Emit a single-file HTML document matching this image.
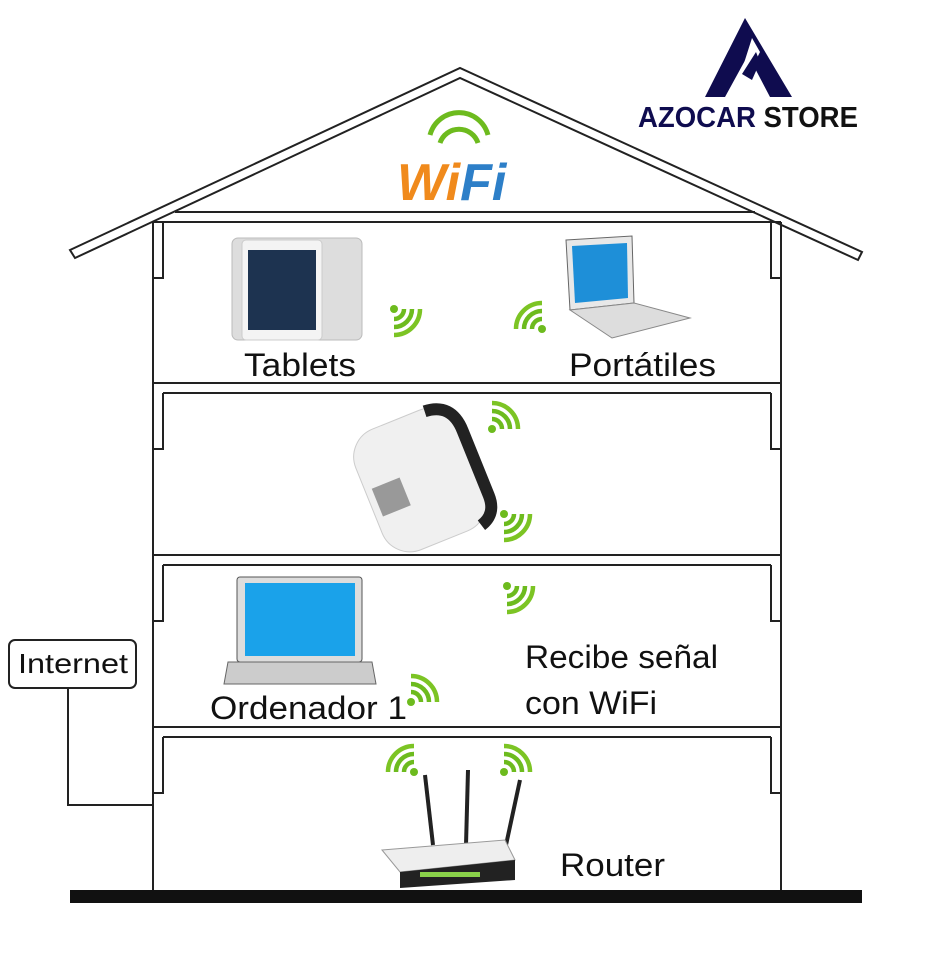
<!DOCTYPE html>
<html><head><meta charset="utf-8"><style>
html,body{margin:0;padding:0;background:#fff;}
svg{display:block;}
text{font-family:"Liberation Sans","DejaVu Sans",sans-serif;}
</style></head><body>
<svg width="951" height="980" viewBox="0 0 951 980" xmlns="http://www.w3.org/2000/svg">
<defs>
<g id="wf">
  <circle cx="4" cy="26" r="4" fill="#6dbb1e"/>
  <path d="M4 16 A10 10 0 0 1 14 26" stroke="#6dbb1e" stroke-width="4.5" fill="none"/>
  <path d="M4 8 A18 18 0 0 1 22 26" stroke="#6dbb1e" stroke-width="4.5" fill="none"/>
  <path d="M4 0 A26 26 0 0 1 30 26" stroke="#7cc424" stroke-width="4.5" fill="none"/>
</g>
</defs>
<g stroke="#222" stroke-width="2" fill="none">
  <polygon points="70,250 460,68 862,252 858,260 460,78 75,258" fill="#fff"/>
  <line x1="175" y1="212" x2="755" y2="212"/>
  <line x1="153" y1="222" x2="153" y2="890"/>
  <line x1="781" y1="222" x2="781" y2="890"/>
  <path d="M153 222 H781"/>
  <path d="M163 222 V278 H153 M771 222 V278 H781"/>
  <path d="M153 383 H781 M163 393 H771 M163 393 V449 H153 M771 393 V449 H781"/>
  <path d="M153 555 H781 M163 565 H771 M163 565 V621 H153 M771 565 V621 H781"/>
  <path d="M153 727 H781 M163 737 H771 M163 737 V793 H153 M771 737 V793 H781"/>
  <path d="M68 688 V805 H153"/>
  <rect x="9" y="640" width="127" height="48" rx="6" fill="#fff"/>
</g>
<rect x="70" y="890" width="792" height="13" fill="#111"/>
<text x="18" y="673" font-size="28" textLength="110" lengthAdjust="spacingAndGlyphs" fill="#111">Internet</text>

<!-- logo -->
<polygon points="745,18 705,97 725,97 748,55 770,97 792,97" fill="#0f0c4f"/>
<polygon points="752,38 738,82 758,82 752,68 760,52" fill="#fff"/>
<polygon points="742,74 756,52 760,62 752,80" fill="#0f0c4f"/>
<text x="638" y="127" font-size="29" font-weight="bold" textLength="220" lengthAdjust="spacingAndGlyphs" fill="#0f0c4f">AZOCAR <tspan fill="#111">STORE</tspan></text>

<!-- WiFi logo -->
<g fill="none" stroke="#6dbb1e" stroke-width="5">
  <path d="M430 135 A30 30 0 0 1 488 135"/>
  <path d="M440 143 A20 20 0 0 1 478 143"/>
</g>
<text x="397" y="200" font-size="52" font-weight="bold" fill="#f08a1c" font-style="italic">Wi<tspan fill="#2d7fc8">Fi</tspan></text>

<!-- tablet -->
<rect x="232" y="238" width="130" height="102" rx="6" fill="#ddd" stroke="#bbb"/>
<rect x="242" y="240" width="80" height="100" rx="4" fill="#f4f4f4" stroke="#ccc"/>
<rect x="248" y="250" width="68" height="80" fill="#1d3350"/>
<text x="244" y="376" font-size="32" textLength="112" lengthAdjust="spacingAndGlyphs" fill="#111">Tablets</text>

<!-- laptop top -->
<polygon points="566,240 632,236 634,303 570,310" fill="#e8e8e8" stroke="#666"/>
<polygon points="572,246 627,243 628,298 575,303" fill="#1e8fd8"/>
<polygon points="570,310 634,303 690,318 612,338" fill="#ddd" stroke="#888"/>
<text x="569" y="376" font-size="32" textLength="147" lengthAdjust="spacingAndGlyphs" fill="#111">Portátiles</text>

<!-- repeater -->
<g transform="rotate(-22 420 480)">
  <rect x="365" y="415" width="110" height="130" rx="30" fill="#f0f0f0" stroke="#ccc"/>
  <path d="M450 418 Q478 420 478 450 L478 520 Q478 540 460 545" stroke="#222" stroke-width="12" fill="none"/>
  <rect x="372" y="470" width="30" height="30" fill="#999"/>
</g>

<!-- laptop floor 2 -->
<rect x="237" y="577" width="125" height="85" rx="3" fill="#ddd" stroke="#555"/>
<rect x="245" y="583" width="110" height="73" fill="#1aa2ea"/>
<polygon points="228,662 372,662 376,684 224,684" fill="#ccc" stroke="#666"/>
<text x="210" y="719" font-size="32" textLength="197" lengthAdjust="spacingAndGlyphs" fill="#111">Ordenador 1</text>
<text x="525" y="668" font-size="32" textLength="193" lengthAdjust="spacingAndGlyphs" fill="#111">Recibe señal</text>
<text x="525" y="714" font-size="32" textLength="132" lengthAdjust="spacingAndGlyphs" fill="#111">con WiFi</text>

<!-- router -->
<g stroke="#222" stroke-width="4">
  <line x1="425" y1="775" x2="433" y2="845"/>
  <line x1="468" y1="770" x2="466" y2="845"/>
  <line x1="520" y1="780" x2="506" y2="845"/>
</g>
<polygon points="382,850 505,840 515,860 400,872" fill="#eee" stroke="#999"/>
<polygon points="400,872 515,860 515,880 400,888" fill="#222"/>
<rect x="420" y="872" width="60" height="5" fill="#8ad14a"/>
<text x="560" y="876" font-size="32" textLength="105" lengthAdjust="spacingAndGlyphs" fill="#111">Router</text>

<!-- wifi icons -->
<use href="#wf" transform="translate(390,305) rotate(90 15 15)"/>
<use href="#wf" transform="translate(516,303) rotate(-90 15 15)"/>
<use href="#wf" transform="translate(488,403)"/>
<use href="#wf" transform="translate(500,510) rotate(90 15 15)"/>
<use href="#wf" transform="translate(503,582) rotate(90 15 15)"/>
<use href="#wf" transform="translate(407,676)"/>
<use href="#wf" transform="translate(388,746) rotate(-90 15 15)"/>
<use href="#wf" transform="translate(500,746)"/>
</svg>
</body></html>
